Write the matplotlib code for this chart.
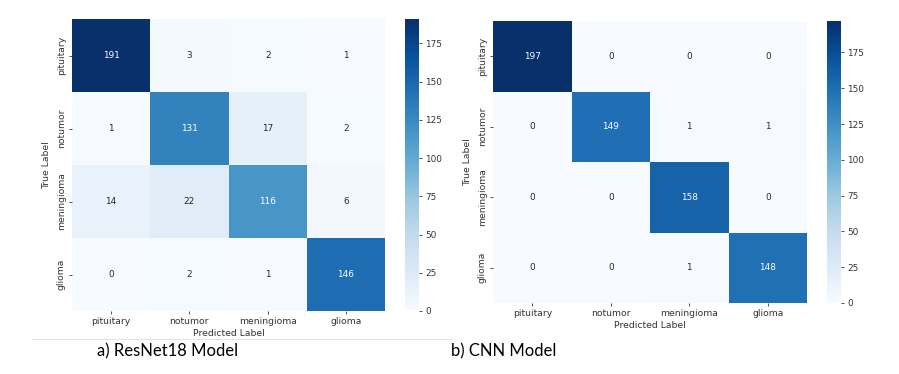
import matplotlib
matplotlib.use("Agg")
import matplotlib.pyplot as plt
import numpy as np
import seaborn as sns
from matplotlib.lines import Line2D

classes = ["pituitary", "notumor", "meningioma", "glioma"]
resnet_cm = [[191, 3, 2, 1],
             [1, 131, 17, 2],
             [14, 22, 116, 6],
             [0, 2, 1, 146]]
cnn_cm = [[197, 0, 0, 0],
          [0, 149, 1, 1],
          [0, 0, 158, 0],
          [0, 0, 1, 148]]
captions = ["a) ResNet18 Model", "b) CNN Model"]
cbar_ticks = [0, 25, 50, 75, 100, 125, 150, 175]

plt.rcParams['font.family'] = ['DejaVu Sans']
W, H = 899, 374
fig = plt.figure(figsize=(W / 100, H / 100), dpi=100)

NUM_FS = 6.4
LAB_FS = 6.7
TXT = "#333333"

def box(x0, y0, x1, y1):
    return [x0 / W, 1 - y1 / H, (x1 - x0) / W, (y1 - y0) / H]

def draw(cm, ax_rect, cb_rect, xlab_y, ylab_x):
    ax = fig.add_axes(box(*ax_rect))
    cax = fig.add_axes(box(*cb_rect))
    data = np.array(cm)
    sns.heatmap(data, ax=ax, cbar_ax=cax, cmap="Blues", annot=True, fmt="d",
                vmin=0, vmax=data.max(),
                annot_kws={"fontsize": NUM_FS},
                xticklabels=classes, yticklabels=classes,
                cbar_kws={"ticks": cbar_ticks})
    ax.tick_params(axis="both", length=2.5, width=0.6, colors=TXT, pad=2)
    ax.set_yticklabels(classes, rotation=90, va="center", fontsize=LAB_FS, color=TXT)
    ax.set_xticklabels(classes, rotation=0, fontsize=LAB_FS, color=TXT)
    ax.set_xlabel("")
    ax.set_ylabel("")
    fig.text(((ax_rect[0] + ax_rect[2]) / 2) / W, 1 - xlab_y / H, "Predicted Label",
             ha="center", va="center", fontsize=LAB_FS, color=TXT)
    fig.text(ylab_x / W, 1 - ((ax_rect[1] + ax_rect[3]) / 2) / H, "True Label",
             ha="center", va="center", rotation=90, fontsize=LAB_FS, color=TXT)
    cax.tick_params(labelsize=NUM_FS, length=2.5, width=0.6, colors=TXT, pad=2)
    for s in cax.spines.values():
        s.set_visible(False)

draw(resnet_cm, (72, 19, 385, 311), (405, 19, 419, 311), 333, 47)
draw(cnn_cm, (493, 21, 807, 303), (827, 21, 841, 303), 325, 468)

fig.add_artist(Line2D([32 / W, 452 / W], [1 - 339 / H, 1 - 339 / H],
                      color="#e6e6e6", lw=0.8))
fig.text(97 / W, 1 - 351 / H, captions[0], fontsize=12, family=["Lato", "DejaVu Sans"],
         ha="left", va="center", color="black")
fig.text(451 / W, 1 - 351 / H, captions[1], fontsize=12, family=["Lato", "DejaVu Sans"],
         ha="left", va="center", color="black")

fig.savefig("out.png", dpi=100)
